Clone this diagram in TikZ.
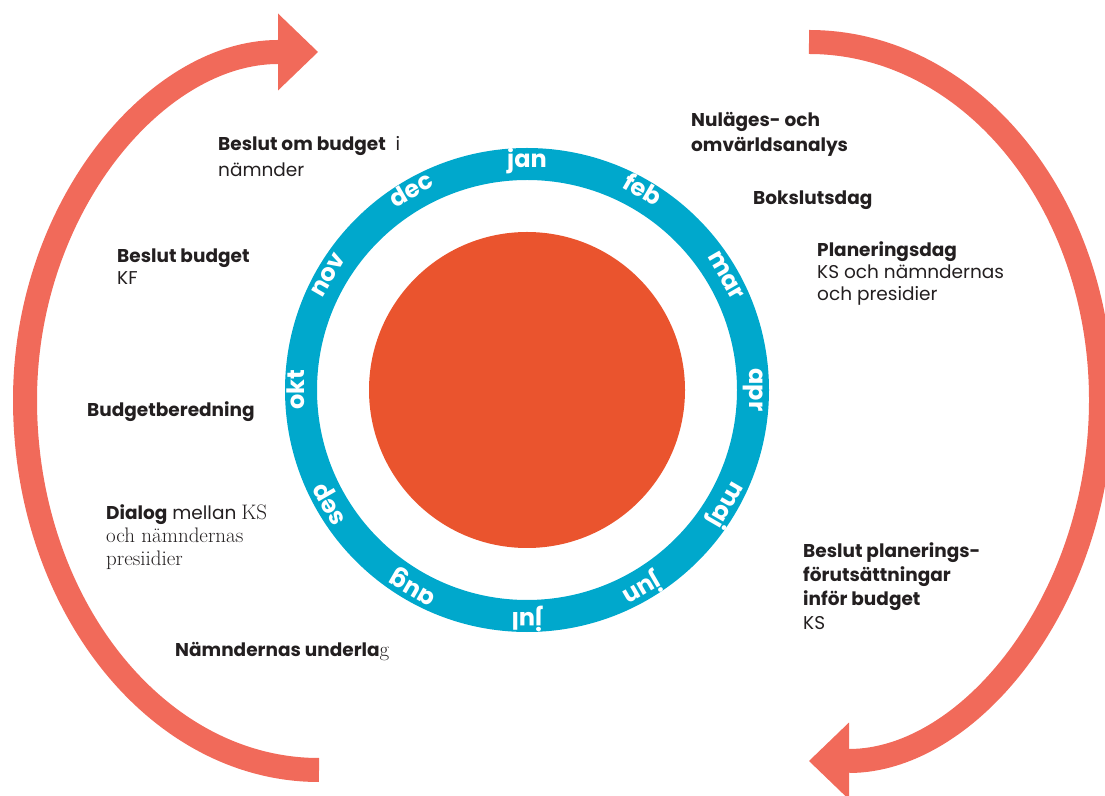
\documentclass[tikz,border=0pt]{standalone}
\usepackage{fontspec}
\newfontfamily\geo{Poppins}
\usetikzlibrary{arrows.meta,positioning}
\definecolor{ringblue}{RGB}{0,168,204}
\definecolor{sunorange}{RGB}{234,84,46}
\definecolor{arrowred}{RGB}{241,106,90}
\definecolor{ink}{RGB}{35,31,32}
\newcommand{\serifpart}{\rmfamily\fontsize{21}{23}\selectfont}
\tikzset{month/.style={
        text=white,
        font=\geo\bfseries\fontsize{24}{24}\selectfont,
        anchor=mid,
        inner sep=0pt,
    },
    event/.style={
        text=ink,
        font=\geo\fontsize{18.5}{23}\selectfont,
        anchor=base west,
        align=left,
        inner sep=0pt,
    },
    cycle/.style={
        draw=arrowred,
        line width=24pt,
        -{Triangle[length=40pt,width=77pt,line width=0pt]},
    }
}

\begin{document}
\begin{tikzpicture}[x=1pt,y=1pt]
  \useasboundingbox (0,0) rectangle (1105,795);
  \coordinate (c) at (527,405);
  \draw[cycle] (319,25) .. controls (157,25) and (25,191) .. (25,395)
    .. controls (25,587) and (156,743) .. (318,743);
  \draw[cycle] (809,753) .. controls (970,753) and (1101,593) .. (1101,395)
    .. controls (1101,196) and (970,34) .. (809,34);
  \fill[sunorange] (c) circle (158pt);
  \draw[ringblue, line width=32pt] (c) circle (226pt);
  \begin{scope}[shift={(c)}]
    \node[month, rotate=0] (jan) at (90:225pt) {jan};
    \node[month, rotate=-30] (feb) at (60:225pt) {feb};
    \node[month, rotate=-60] (mar) at (30:225pt) {mar};
    \node[month, rotate=-90] (apr) at (0:225pt) {apr};
    \node[month, rotate=-120] (maj) at (-30:225pt) {maj};
    \node[month, rotate=-150] (jun) at (-60:225pt) {jun};
    \node[month, rotate=180] (jul) at (-90:225pt) {jul};
    \node[month, rotate=150] (aug) at (-120:225pt) {aug};
    \node[month, rotate=120] (sep) at (-150:225pt) {sep};
    \node[month, rotate=90] (okt) at (180:225pt) {okt};
    \node[month, rotate=60] (nov) at (150:225pt) {nov};
    \node[month, rotate=30] (dec) at (120:225pt) {dec};
  \end{scope}
  \node[event] (budgetnamnd) at (218,618) {{\bfseries Beslut om budget}\ \ i\\[3pt]nämnder};
  \node[event] (analys) at (691,643) {{\bfseries Nuläges- och}\\[2pt]{\bfseries omvärldsanalys}};
  \node[event] (bokslut) at (753,590) {\bfseries Bokslutsdag};
  \node[event] (planering) at (817,494) {{\bfseries Planeringsdag}\\[-1pt]KS och nämndernas\\[-1pt]och presidier};
  \node[event] (beslutkf) at (117,510) {{\bfseries Beslut budget}\\[-1pt]KF};
  \node[event] (beredning) at (87,378) {\bfseries Budgetberedning};
  \node[event] (dialog) at (106,229) {{\bfseries Dialog} mellan {\serifpart KS}\\{\serifpart och nämndernas}\\{\serifpart presiidier}};
  \node[event] (underlag) at (175,138) {{\bfseries Nämndernas underla}{\serifpart g}};
  \node[event] (forutsattning) at (803,165) {{\bfseries Beslut planerings-}\\[1pt]{\bfseries förutsättningar}\\[1pt]{\bfseries inför budget}\\[1pt]KS};
\end{tikzpicture}
\end{document}
